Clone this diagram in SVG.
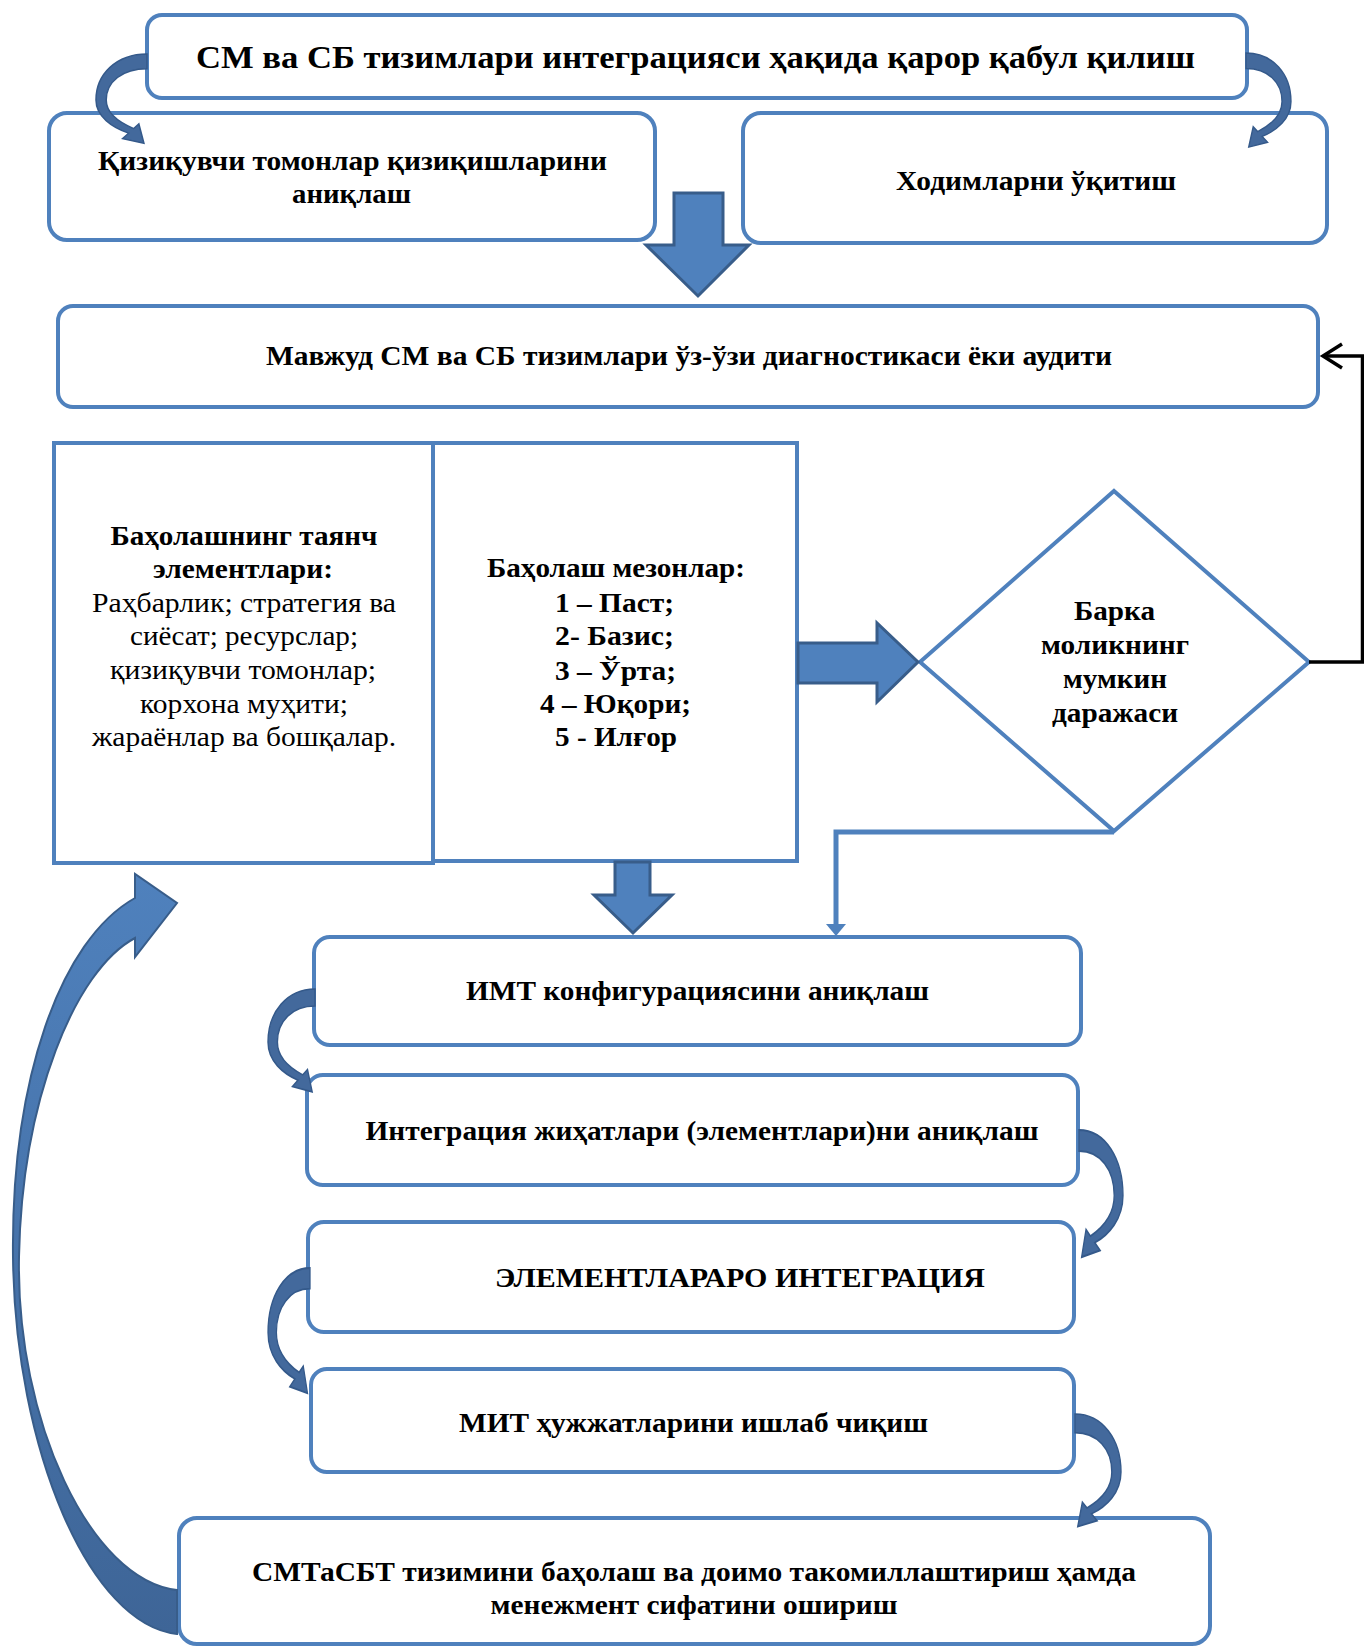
<svg xmlns="http://www.w3.org/2000/svg" xmlns:xlink="http://www.w3.org/1999/xlink" width="1364" height="1648" viewBox="0 0 1364 1648">
  <defs>
    <style>
      .box { fill: #ffffff; stroke: #4F81BD; stroke-width: 4; }
      .t { font-family: "Liberation Serif", "Times New Roman", serif; font-weight: bold; fill: #000000; text-anchor: middle; }
      .n { font-weight: normal; }
      .blk { fill: #4F81BD; stroke: #385D8A; stroke-width: 3; stroke-linejoin: miter; }
      .hook { fill: #43699C; stroke: #34598A; stroke-width: 1.5; }
      .line { fill: none; stroke: #4F81BD; stroke-width: 5; }
      .black { fill: none; stroke: #000000; stroke-width: 3.5; }
    </style>
    <!-- curved hook arrow, origin at the band start on a box edge -->
    <path id="hookArrow" d="M0,0 C-30,0 -50,22 -50,50 C-50,68 -34,80 -18,86 L-24,92 L-3,97 L-8,76 L-13,81 C-28,74 -40,64 -40,50 C-40,30 -24,16 0,16 Z"/>
    <linearGradient id="loopFill" x1="0" y1="0" x2="0" y2="1">
      <stop offset="0" stop-color="#4F81BD"/>
      <stop offset="1" stop-color="#3E6597"/>
    </linearGradient>
  </defs>

  <rect width="1364" height="1648" fill="#ffffff"/>

  <g id="decision">
    <rect class="box" x="147" y="15" width="1100" height="83" rx="15"/>
    <text class="t" x="695.5" y="68" font-size="31" textLength="999" lengthAdjust="spacingAndGlyphs">СМ ва СБ тизимлари интеграцияси ҳақида қарор қабул қилиш</text>
  </g>

  <g id="stakeholders">
    <rect class="box" x="49" y="113" width="606" height="127" rx="18"/>
    <text class="t" x="352.5" y="170" font-size="27" textLength="509" lengthAdjust="spacingAndGlyphs">Қизиқувчи томонлар қизиқишларини</text>
    <text class="t" x="351.5" y="203" font-size="27" textLength="119" lengthAdjust="spacingAndGlyphs">аниқлаш</text>
  </g>

  <g id="training">
    <rect class="box" x="743" y="113" width="584" height="130" rx="18"/>
    <text class="t" x="1036" y="190" font-size="27" textLength="280" lengthAdjust="spacingAndGlyphs">Ходимларни ўқитиш</text>
  </g>

  <g id="audit">
    <rect class="box" x="58" y="306" width="1260" height="101" rx="15"/>
    <text class="t" x="689" y="365" font-size="27" textLength="846" lengthAdjust="spacingAndGlyphs">Мавжуд СМ ва СБ тизимлари ўз-ўзи диагностикаси ёки аудити</text>
  </g>

  <g id="elements">
    <rect class="box" x="54" y="443" width="379" height="420"/>
    <text class="t" x="244" y="545" font-size="27" textLength="267" lengthAdjust="spacingAndGlyphs">Баҳолашнинг таянч</text>
    <text class="t" x="243" y="578" font-size="27" textLength="180" lengthAdjust="spacingAndGlyphs">элементлари:</text>
    <text class="t n" x="244" y="612" font-size="27" textLength="304" lengthAdjust="spacingAndGlyphs">Раҳбарлик; стратегия ва</text>
    <text class="t n" x="244" y="645" font-size="27" textLength="228" lengthAdjust="spacingAndGlyphs">сиёсат; ресурслар;</text>
    <text class="t n" x="243" y="679" font-size="27" textLength="266" lengthAdjust="spacingAndGlyphs">қизиқувчи томонлар;</text>
    <text class="t n" x="244" y="713" font-size="27" textLength="208" lengthAdjust="spacingAndGlyphs">корхона муҳити;</text>
    <text class="t n" x="244" y="746" font-size="27" textLength="304" lengthAdjust="spacingAndGlyphs">жараёнлар ва бошқалар.</text>
  </g>

  <g id="criteria">
    <rect class="box" x="433" y="443" width="364" height="418"/>
    <text class="t" x="616" y="577" font-size="27" textLength="258" lengthAdjust="spacingAndGlyphs">Баҳолаш мезонлар:</text>
    <text class="t" x="614.5" y="612" font-size="27" textLength="119" lengthAdjust="spacingAndGlyphs">1 – Паст;</text>
    <text class="t" x="614.5" y="645" font-size="27" textLength="119" lengthAdjust="spacingAndGlyphs">2- Базис;</text>
    <text class="t" x="615.5" y="680" font-size="27" textLength="121" lengthAdjust="spacingAndGlyphs">3 – Ўрта;</text>
    <text class="t" x="615.5" y="713" font-size="27" textLength="151" lengthAdjust="spacingAndGlyphs">4 – Юқори;</text>
    <text class="t" x="616" y="746" font-size="27" textLength="122" lengthAdjust="spacingAndGlyphs">5 - Илғор</text>
  </g>

  <g id="maturity">
    <polygon points="1114,491 1309,662 1114,831 920,662" fill="#ffffff" stroke="#4F81BD" stroke-width="4"/>
    <text class="t" x="1114.5" y="620" font-size="27" textLength="81" lengthAdjust="spacingAndGlyphs">Барка</text>
    <text class="t" x="1115" y="654" font-size="27" textLength="148" lengthAdjust="spacingAndGlyphs">моликнинг</text>
    <text class="t" x="1115" y="688" font-size="27" textLength="104" lengthAdjust="spacingAndGlyphs">мумкин</text>
    <text class="t" x="1115" y="722" font-size="27" textLength="126" lengthAdjust="spacingAndGlyphs">даражаси</text>
  </g>

  <g id="configuration">
    <rect class="box" x="314" y="937" width="767" height="108" rx="16"/>
    <text class="t" x="697.5" y="1000" font-size="27" textLength="463" lengthAdjust="spacingAndGlyphs">ИМТ конфигурациясини аниқлаш</text>
  </g>

  <g id="aspects">
    <rect class="box" x="307" y="1075" width="771" height="110" rx="16"/>
    <text class="t" x="702" y="1140" font-size="27" textLength="673" lengthAdjust="spacingAndGlyphs">Интеграция жиҳатлари (элементлари)ни аниқлаш</text>
  </g>

  <g id="inter-element">
    <rect class="box" x="308" y="1222" width="766" height="110" rx="16"/>
    <text class="t" x="740" y="1287" font-size="27" textLength="490" lengthAdjust="spacingAndGlyphs">ЭЛЕМЕНТЛАРАРО ИНТЕГРАЦИЯ</text>
  </g>

  <g id="documents">
    <rect class="box" x="311" y="1369" width="763" height="103" rx="16"/>
    <text class="t" x="693.5" y="1432" font-size="27" textLength="469" lengthAdjust="spacingAndGlyphs">МИТ ҳужжатларини ишлаб чиқиш</text>
  </g>

  <g id="improvement">
    <rect class="box" x="179" y="1518" width="1031" height="126" rx="18"/>
    <text class="t" x="694" y="1581" font-size="27" textLength="884" lengthAdjust="spacingAndGlyphs">СМТаСБТ тизимини баҳолаш ва доимо такомиллаштириш ҳамда</text>
    <text class="t" x="694" y="1614" font-size="27" textLength="407" lengthAdjust="spacingAndGlyphs">менежмент сифатини ошириш</text>
  </g>

  <!-- connectors, drawn over the boxes -->
  <g id="connectors">
    <!-- big down arrow under the top row -->
    <polygon class="blk" points="674,193 723,193 723,245 749,245 698,296 646,245 674,245"/>
    <!-- arrow from criteria block to diamond -->
    <polygon class="blk" points="798,643 877,643 877,623 918,662 877,702 877,683 798,683"/>
    <!-- small down arrow under criteria block -->
    <polygon class="blk" points="615,862 650,862 650,895 672,895 633,933 594,895 615,895"/>
    <!-- diamond bottom to configuration box -->
    <path class="line" d="M1114,832 H836 V926"/>
    <polygon points="826,924 846,924 836,936" fill="#4F81BD"/>
    <!-- feedback line from diamond to audit box -->
    <path class="black" d="M1309,662 H1362.5 V356 H1323"/>
    <path class="black" d="M1342,344 L1323,356 L1342,368"/>
    <!-- curved hook arrows -->
    <use xlink:href="#hookArrow" class="hook" transform="translate(147,54) scale(1.02,0.92)"/>
    <use xlink:href="#hookArrow" class="hook" transform="translate(1246,53) scale(-0.9,0.97)"/>
    <use xlink:href="#hookArrow" class="hook" transform="translate(315,989) scale(0.94,1.06)"/>
    <use xlink:href="#hookArrow" class="hook" transform="translate(1079,1130) scale(-0.88,1.31)"/>
    <use xlink:href="#hookArrow" class="hook" transform="translate(310,1268) scale(0.84,1.29)"/>
    <use xlink:href="#hookArrow" class="hook" transform="translate(1075,1414) scale(-0.92,1.16)"/>
    <!-- large loop arrow from the last box back up to the assessment block -->
    <path d="M177,1634 C90,1625 15,1450 13,1257 C11,1080 60,940 135,898 L135,874 L177,903 L135,957 L135,938 C75,970 22,1100 19,1257 C16,1420 90,1580 177,1590 Z" fill="url(#loopFill)" stroke="#385D8A" stroke-width="2"/>
  </g>
</svg>
